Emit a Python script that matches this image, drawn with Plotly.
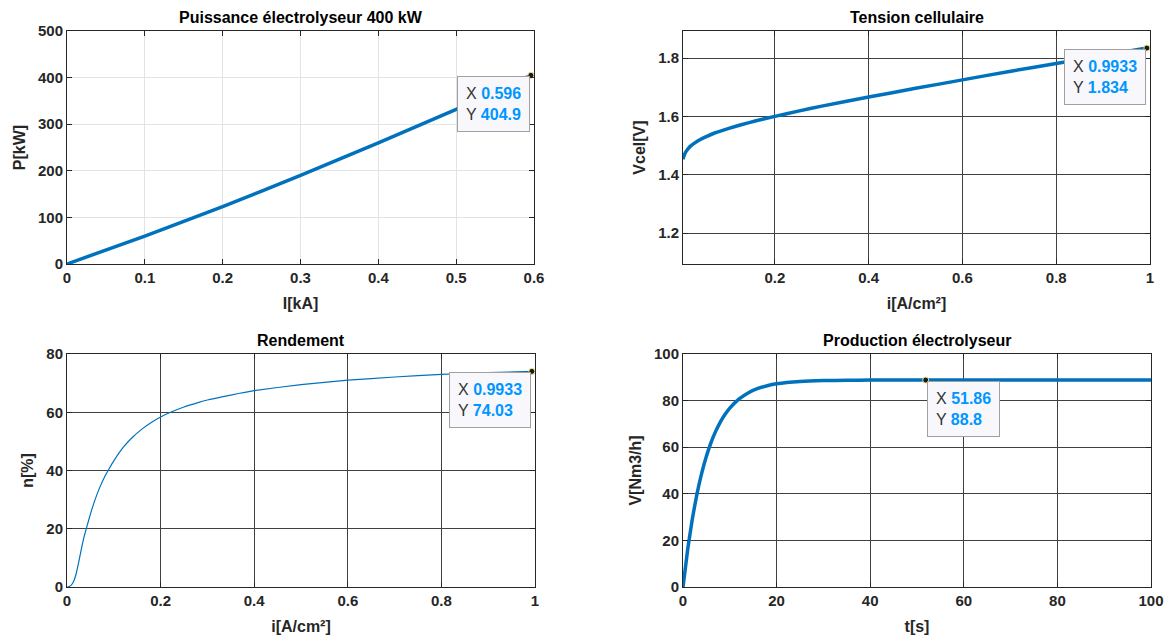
import plotly.graph_objects as go

# ---------------- data ----------------
I_kA = [0, 0.1, 0.2, 0.3, 0.4, 0.5, 0.596]
P_kW = [0, 60, 123, 190, 260, 332, 404.9]

i_v = [0.004, 0.006, 0.008, 0.01, 0.015, 0.02, 0.03, 0.04, 0.05, 0.07, 0.1, 0.13, 0.16, 0.2,
       0.25, 0.3, 0.4, 0.5, 0.6, 0.7, 0.8, 0.9, 0.9933]
Vcel = [1.453, 1.464, 1.472, 1.478, 1.489, 1.498, 1.510, 1.520, 1.528, 1.542, 1.558, 1.572, 1.585, 1.600,
        1.618, 1.635, 1.666, 1.696, 1.725, 1.754, 1.781, 1.809, 1.834]

i_n = [0, 0.005, 0.01, 0.015, 0.02, 0.025, 0.03, 0.035, 0.042, 0.05, 0.06, 0.07, 0.08, 0.09, 0.1,
       0.12, 0.14, 0.16, 0.18, 0.2, 0.22, 0.25, 0.28, 0.3, 0.35, 0.4, 0.5, 0.6, 0.7, 0.8, 0.9, 0.9933]
n_pct = [0, 0.2, 0.8, 2.2, 4.8, 8.5, 12.5, 16.3, 20.5, 25.0, 30.0, 34.2, 37.7, 40.6, 43.3,
         47.9, 51.4, 54.2, 56.5, 58.4, 59.9, 61.8, 63.3, 64.2, 65.9, 67.4, 69.5, 71.0, 72.1, 73.0, 73.6, 74.03]

t_s = [0, 1, 2, 3, 4, 5, 6, 7, 8, 9, 10, 12, 14, 16, 18, 20, 25, 30, 35, 40, 51.86, 60, 80, 100]
V_nm3h = [0, 16.1, 29.3, 40.1, 48.9, 56.1, 62.1, 66.9, 70.9, 74.1, 76.8, 80.7, 83.4, 85.2, 86.4, 87.2,
          88.2, 88.6, 88.7, 88.8, 88.8, 88.8, 88.8, 88.8]

titles = ["Puissance électrolyseur 400 kW", "Tension cellulaire", "Rendement", "Production électrolyseur"]
xlabels = ["I[kA]", "i[A/cm²]", "i[A/cm²]", "t[s]"]
ylabels = ["P[kW]", "Vcel[V]", "n[%]", "V[Nm3/h]"]

tips = [(0.596, 404.9, "0.596", "404.9"), (0.9933, 1.834, "0.9933", "1.834"),
        (0.9933, 74.03, "0.9933", "74.03"), (51.86, 88.8, "51.86", "88.8")]

# ---------------- layout geometry ----------------
OFF = 8  # default page body margin
W, H = 1174 - OFF, 641 - OFF
def px(x): return (x - OFF) / W
def py(y): return 1 - (y - OFF) / H

xdom = [[px(67), px(534)], [px(683), px(1150)], [px(67), px(535)], [px(683), px(1151)]]
ydom = [[py(264), py(31)], [py(264), py(31)], [py(587), py(354)], [py(587), py(354)]]

BLUE = "#0072BD"
AX = "#262626"
FONT = "Liberation Sans"

fig = go.Figure()

series = [(I_kA, P_kW, 3.5), (i_v, Vcel, 3.5), (i_n, n_pct, 1.2), (t_s, V_nm3h, 3.5)]
for k, (xs, ys, w) in enumerate(series):
    ax = "" if k == 0 else str(k + 1)
    fig.add_trace(go.Scatter(x=xs, y=ys, mode="lines", line=dict(color=BLUE, width=w, shape="spline", smoothing=0.4),
                             xaxis="x" + ax, yaxis="y" + ax, showlegend=False, hoverinfo="skip"))
    tx, ty, sx, sy = tips[k]
    fig.add_trace(go.Scatter(x=[tx], y=[ty], mode="markers",
                             marker=dict(color="#1a1a1a", size=6, line=dict(color="#f0e68c", width=1)),
                             xaxis="x" + ax, yaxis="y" + ax, showlegend=False, hoverinfo="skip", cliponaxis=False))

xranges = [[0, 0.6], [0.004, 1.0], [0, 1], [0, 100]]
yranges = [[0, 500], [1.0937, 1.8926], [0, 80], [0, 100]]
xticks = [([0, 0.1, 0.2, 0.3, 0.4, 0.5, 0.6], ["0", "0.1", "0.2", "0.3", "0.4", "0.5", "0.6"]),
          ([0.2, 0.4, 0.6, 0.8, 1.0], ["0.2", "0.4", "0.6", "0.8", "1"]),
          ([0, 0.2, 0.4, 0.6, 0.8, 1.0], ["0", "0.2", "0.4", "0.6", "0.8", "1"]),
          ([0, 20, 40, 60, 80, 100], ["0", "20", "40", "60", "80", "100"])]
yticks = [([0, 100, 200, 300, 400, 500], ["0", "100", "200", "300", "400", "500"]),
          ([1.2, 1.4, 1.6, 1.8], ["1.2", "1.4", "1.6", "1.8"]),
          ([0, 20, 40, 60, 80], ["0", "20", "40", "60", "80"]),
          ([0, 20, 40, 60, 80, 100], ["0", "20", "40", "60", "80", "100"])]
gridcols = ["#e3e3e3", "#404040", "#404040", "#404040"]

tickfont = dict(family=FONT, size=15, color=AX, weight="bold")
titlefont = dict(family=FONT, size=16, color=AX, weight="bold")

annotations = []
for k in range(4):
    ax = "" if k == 0 else str(k + 1)
    common = dict(showline=True, linecolor=AX, linewidth=1, mirror="allticks", ticks="inside", ticklen=5,
                  tickcolor=AX, showgrid=True, gridcolor=gridcols[k], gridwidth=1, zeroline=False,
                  tickfont=tickfont, title_font=titlefont, automargin=False)
    fig.layout["xaxis" + ax] = dict(domain=xdom[k], range=xranges[k], anchor="y" + ax,
                                    tickmode="array", tickvals=xticks[k][0], ticktext=xticks[k][1],
                                    title=dict(text=xlabels[k], standoff=12), **common)
    fig.layout["yaxis" + ax] = dict(domain=ydom[k], range=yranges[k], anchor="x" + ax,
                                    tickmode="array", tickvals=yticks[k][0], ticktext=yticks[k][1],
                                    title=dict(text=ylabels[k], standoff=8), **common)
    # subplot title
    annotations.append(dict(text=titles[k], xref="paper", yref="paper", x=(xdom[k][0] + xdom[k][1]) / 2,
                            y=ydom[k][1], yshift=3, xanchor="center", yanchor="bottom", showarrow=False,
                            font=dict(family=FONT, size=16, color="#000000", weight="bold")))
    # datatip box
    tx, ty, sx, sy = tips[k]
    txt = ("<span style='color:#333333'>X</span> <b><span style='color:#0096FF'>" + sx + "</span></b><br>"
           "<span style='color:#333333'>Y</span> <b><span style='color:#0096FF'>" + sy + "</span></b>")
    if k == 3:
        xa, xs_ = "left", 1
    else:
        xa, xs_ = "right", -1
    annotations.append(dict(text=txt, x=tx, y=ty, xref="x" + ax, yref="y" + ax, showarrow=False,
                            xanchor=xa, yanchor="top", xshift=xs_, yshift=-1, align="left",
                            font=dict(family=FONT, size=16, color="#333333"),
                            bgcolor="#f8f8fc", bordercolor="#a0a0a0", borderwidth=1, borderpad=8))

fig.update_layout(width=W, height=H, margin=dict(l=0, r=0, t=0, b=0),
                  paper_bgcolor="white", plot_bgcolor="white", annotations=annotations,
                  font=dict(family=FONT))
fig.write_html("out.html")
